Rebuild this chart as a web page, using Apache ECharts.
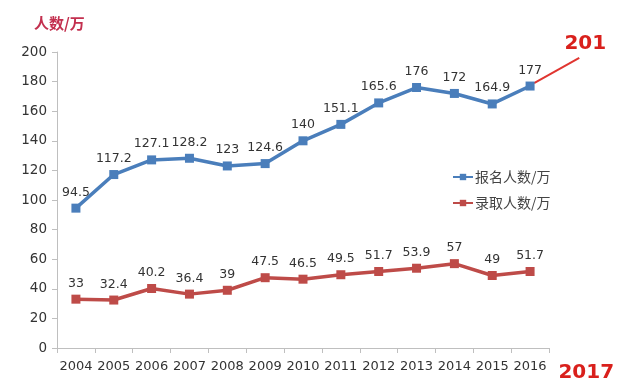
<!DOCTYPE html>
<html><head><meta charset="utf-8">
<script src="https://cdn.jsdelivr.net/npm/echarts@6/dist/echarts.min.js"></script>
<style>html,body{margin:0;padding:0;background:#fff;}#c{width:640px;height:389px;}</style>
</head><body><div id="c"></div>
<script>
const years = ['2004','2005','2006','2007','2008','2009','2010','2011','2012','2013','2014','2015','2016'];
const applicants = [94.5,117.2,127.1,128.2,123,124.6,140,151.1,165.6,176,172,164.9,177];
const admitted = [33,32.4,40.2,36.4,39,47.5,46.5,49.5,51.7,53.9,57,49,51.7];
const forecastYear = '2017';
const forecastValue = 201;
const yTicks = {min:0, max:200, interval:20};

const chart = echarts.init(document.getElementById('c'));
const font = 'DejaVu Sans, Noto Sans CJK SC, sans-serif';
const lbl = {show:true, position:'top', color:'#333', fontSize:12.5, fontFamily:font, distance:5};
chart.setOption({
  animation:false,
  textStyle:{fontFamily:font},
  title:{text:'人数/万', left:29, top:11, textStyle:{color:'#c3304f', fontSize:15, fontWeight:'bold', fontFamily:'Noto Sans CJK SC, sans-serif'}},
  grid:{left:57, right:91, top:52, bottom:41},
  legend:{orient:'vertical', left:447, top:165, itemGap:12, itemWidth:20, itemHeight:8,
    textStyle:{color:'#444', fontSize:14, fontFamily:'Noto Sans CJK SC, sans-serif', padding:[0,0,0,-3]},
    data:['报名人数/万','录取人数/万']},
  xAxis:{type:'category', data:years, boundaryGap:true,
    axisLine:{lineStyle:{color:'#bfbfbf', width:1}},
    axisTick:{show:true, lineStyle:{color:'#bfbfbf'}, length:5},
    axisLabel:{color:'#333', fontSize:13, margin:12, fontFamily:font, interval:0}},
  yAxis:{type:'value', min:yTicks.min, max:yTicks.max, interval:yTicks.interval,
    axisLine:{show:true, lineStyle:{color:'#bfbfbf'}},
    axisTick:{show:true, inside:false, length:5, lineStyle:{color:'#bfbfbf'}},
    splitLine:{show:false},
    axisLabel:{color:'#333', fontSize:13.5, margin:10, fontFamily:font}},
  series:[
    {name:'报名人数/万', type:'line', data:applicants, symbol:'rect', symbolSize:9,
      lineStyle:{color:'#4a7ebb', width:3.5}, itemStyle:{color:'#4a7ebb'}, label:lbl},
    {name:'录取人数/万', type:'line', data:admitted, symbol:'rect', symbolSize:9,
      lineStyle:{color:'#be4b48', width:3.5}, itemStyle:{color:'#be4b48'}, label:lbl}
  ]
});
const p = chart.convertToPixel({seriesIndex:0}, [years.length-1, applicants[applicants.length-1]]);
const p0 = chart.convertToPixel({seriesIndex:0}, [years.length-2, applicants[applicants.length-1]]);
const step = p[0]-p0[0];
const endY = chart.convertToPixel({yAxisIndex:0}, forecastValue-5);
const endX = p[0] + step*1.3;
const axisY = chart.convertToPixel({yAxisIndex:0}, 0);
chart.setOption({graphic:[
  {type:'line', shape:{x1:p[0]+4, y1:p[1]-3, x2:endX, y2:endY}, style:{stroke:'#e03530', lineWidth:2}},
  {type:'text', x:endX+6, y:endY-14, style:{text:String(forecastValue), fill:'#d9201c', font:'bold 20px "DejaVu Sans", sans-serif', textAlign:'center', textVerticalAlign:'middle'}},
  {type:'text', x:endX+7, y:axisY+25, style:{text:forecastYear, fill:'#d9201c', font:'bold 20px "DejaVu Sans", sans-serif', textAlign:'center', textVerticalAlign:'middle'}}
]});
</script></body></html>
